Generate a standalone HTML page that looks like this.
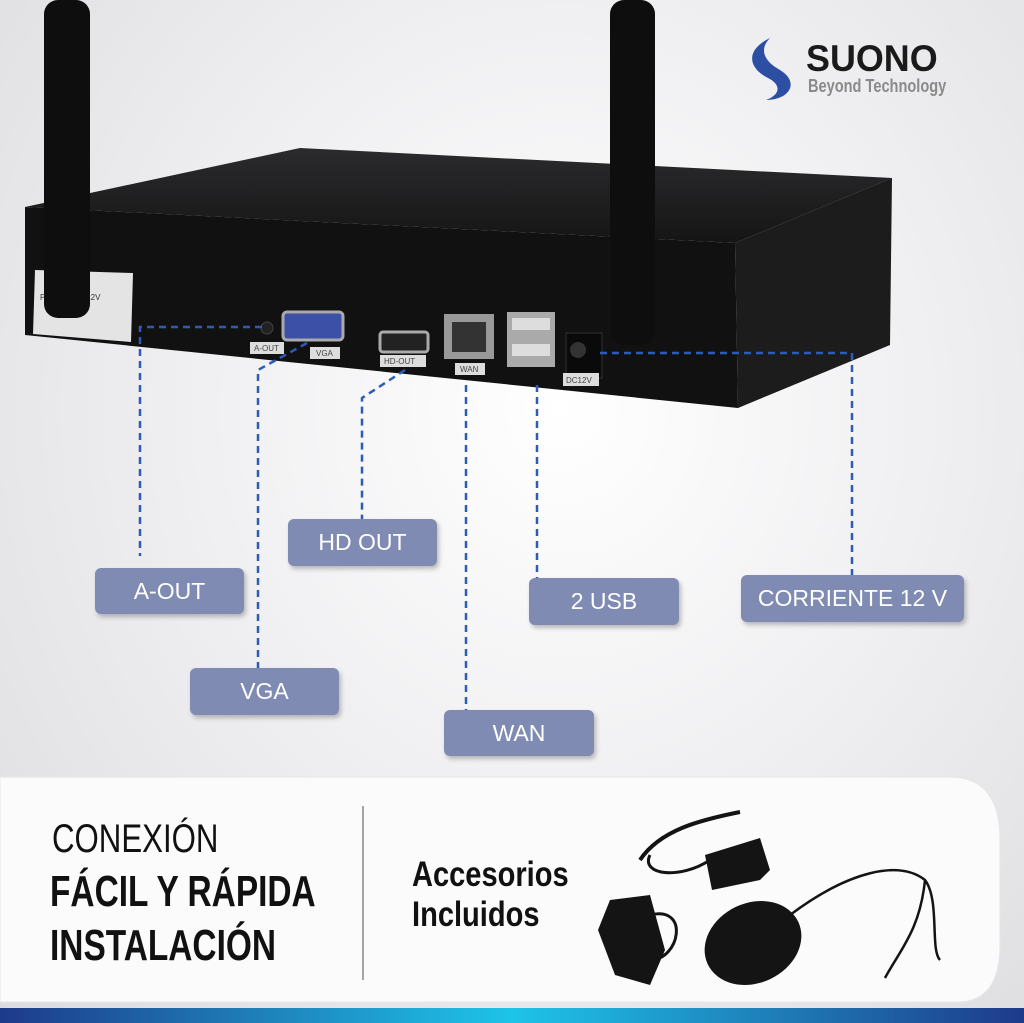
<!DOCTYPE html>
<html><head><meta charset="utf-8"><style>
html,body{margin:0;padding:0}
body{width:1024px;height:1023px;overflow:hidden;position:relative;background:radial-gradient(ellipse at 55% 40%,#ffffff 0%,#f0f0f2 45%,#dcdcdf 100%);font-family:"Liberation Sans",sans-serif}
.lbl{position:absolute;background:#7f8bb2;color:#fff;font-size:23px;display:flex;align-items:center;justify-content:center;border-radius:6px;box-shadow:2px 3px 5px rgba(0,0,0,.25)}
</style></head><body>
<svg width="1024" height="1023" style="position:absolute;left:0;top:0">
<defs>
<linearGradient id="bar" x1="0" x2="1"><stop offset="0" stop-color="#1e3a8a"/><stop offset=".5" stop-color="#1ec4e8"/><stop offset="1" stop-color="#1e3a8a"/></linearGradient>
<linearGradient id="top" x1="0" y1="0" x2="0" y2="1"><stop offset="0" stop-color="#2b2b2d"/><stop offset="1" stop-color="#151516"/></linearGradient>
</defs>
<polygon points="25,207 300,148 892,178 735,243" fill="url(#top)"/>
<polygon points="25,207 735,243 738,408 25,335" fill="#111"/>
<polygon points="735,243 892,178 890,345 738,408" fill="#1c1c1d"/>
<polygon points="35,270 133,273 131,342 33,334" fill="#e4e4e4"/>
<text x="40" y="300" font-size="8" fill="#333">POWER:DC 12V</text>
<rect x="283" y="312" width="60" height="28" rx="4" fill="#3c50a8" stroke="#aaa" stroke-width="3"/>
<circle cx="267" cy="328" r="6" fill="#222" stroke="#444"/>
<rect x="380" y="332" width="48" height="20" rx="3" fill="#222" stroke="#aaa" stroke-width="3"/>
<rect x="444" y="314" width="50" height="45" fill="#999"/><rect x="452" y="322" width="34" height="30" fill="#333"/>
<rect x="507" y="312" width="48" height="55" fill="#aaa"/><rect x="512" y="318" width="38" height="12" fill="#ddd"/><rect x="512" y="344" width="38" height="12" fill="#ddd"/>
<rect x="566" y="333" width="36" height="45" fill="#0a0a0a" stroke="#333"/><circle cx="578" cy="350" r="8" fill="#333"/>
<g font-size="8" fill="#444">
<rect x="250" y="342" width="34" height="12" fill="#ddd"/><text x="254" y="351">A-OUT</text>
<rect x="310" y="347" width="30" height="12" fill="#ddd"/><text x="316" y="356">VGA</text>
<rect x="380" y="355" width="46" height="12" fill="#ddd"/><text x="384" y="364">HD-OUT</text>
<rect x="455" y="363" width="30" height="12" fill="#ddd"/><text x="460" y="372">WAN</text>
<rect x="563" y="373" width="36" height="13" fill="#ddd"/><text x="566" y="383">DC12V</text>
</g>
<rect x="44" y="0" width="46" height="318" rx="14" fill="#0e0e0e"/>
<rect x="610" y="0" width="45" height="345" rx="14" fill="#0e0e0e"/>
<g stroke="#2c5cb8" stroke-width="2.5" stroke-dasharray="7,5" fill="none">
<polyline points="262,327 140,327 140,556"/>
<polyline points="307,343 258,370 258,668"/>
<polyline points="405,370 362,398 362,519"/>
<polyline points="466,385 466,710"/>
<polyline points="537,385 537,578"/>
<polyline points="600,353 852,353 852,575"/>
</g>
<path d="M0,777 H950 Q1000,777 1000,840 V945 Q1000,1000 960,1002 H0 Z" fill="#fbfbfb" stroke="#e6e6e6"/>
<line x1="363" y1="806" x2="363" y2="980" stroke="#888" stroke-width="1.5"/>
<rect x="0" y="1008" width="1024" height="15" fill="url(#bar)"/>
<g fill="#141414">
<polygon points="705,855 760,838 770,870 760,880 712,890"/>
<path d="M640,860 C660,830 700,820 740,812" stroke="#141414" stroke-width="4" fill="none"/>
<path d="M650,855 C640,875 680,880 710,860" stroke="#141414" stroke-width="3" fill="none"/>
<path d="M610,900 L650,895 L665,950 L650,985 L615,975 L598,930 Z"/>
<path d="M650,915 C690,905 680,960 650,960" stroke="#141414" stroke-width="3" fill="none"/>
<ellipse cx="753" cy="943" rx="50" ry="40" transform="rotate(-25 753 943)"/>
<path d="M790,915 C850,870 900,860 925,880 C940,900 930,950 940,960 M925,880 C920,930 900,950 885,978" stroke="#141414" stroke-width="2.5" fill="none"/>
</g>
<path d="M770,38 C745,50 748,68 768,78 C782,85 780,95 766,100 C790,100 800,82 780,70 C762,60 760,48 770,38 Z" fill="#2d4fa3"/>
</svg>
<div style="position:absolute;left:806px;top:38px;font-size:37px;font-weight:bold;color:#1a1a1a;transform:scaleX(.97);transform-origin:left">SUONO</div>
<div style="position:absolute;left:808px;top:76px;font-size:18px;font-weight:bold;color:#8a8a8a;transform:scaleX(.81);transform-origin:left">Beyond Technology</div>
<div class="lbl" style="left:95px;top:568px;width:149px;height:46px">A-OUT</div>
<div class="lbl" style="left:288px;top:519px;width:149px;height:47px">HD OUT</div>
<div class="lbl" style="left:190px;top:668px;width:149px;height:47px">VGA</div>
<div class="lbl" style="left:444px;top:710px;width:150px;height:46px">WAN</div>
<div class="lbl" style="left:529px;top:578px;width:150px;height:47px">2 USB</div>
<div class="lbl" style="left:741px;top:575px;width:223px;height:47px">CORRIENTE 12 V</div>
<div style="position:absolute;left:52px;top:815px;font-size:40px;color:#111;transform:scaleX(.78);transform-origin:left;line-height:48px">CONEXIÓN</div>
<div style="position:absolute;left:50px;top:865px;font-size:44px;font-weight:bold;color:#111;transform:scaleX(.76);transform-origin:left;line-height:54px">FÁCIL Y RÁPIDA<br>INSTALACIÓN</div>
<div style="position:absolute;left:412px;top:855px;font-size:35px;font-weight:bold;color:#111;transform:scaleX(.83);transform-origin:left;line-height:40px">Accesorios<br>Incluidos</div>
</body></html>
